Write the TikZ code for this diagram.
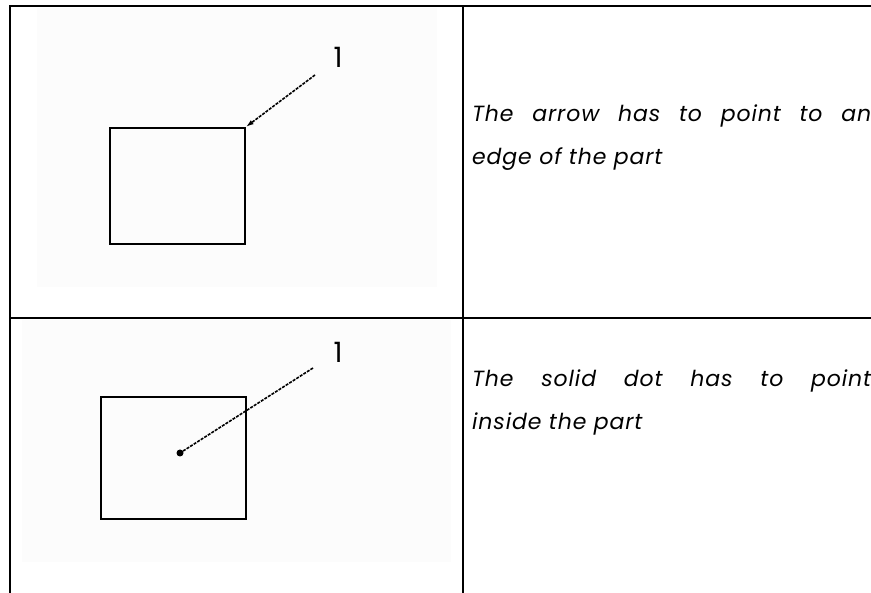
\documentclass[tikz,border=0pt]{standalone}
\usepackage{fontspec}
\newfontfamily\gothic{Poppins}
\newfontfamily\gothicwide{Poppins}[LetterSpace=4]
\usetikzlibrary{arrows.meta}
\definecolor{paper}{gray}{0.99}
\tikzset{
  grid/.style={line width=2pt, line cap=rect},
  part/.style={draw=black, line width=1.8pt, inner sep=0pt},
  leader/.style={line width=1.6pt, dash pattern=on 3pt off 1.2pt},
  num/.style={font=\gothic\fontsize{28}{28}\selectfont, inner sep=0pt},
  desc/.style={font=\gothicwide\itshape\fontsize{22}{43}\selectfont, text width=399pt, align=justify, inner sep=0pt, anchor=north west},
  shade/.style={fill=paper, draw=none}
}
\begin{document}
\begin{tikzpicture}[x=1pt,y=-1pt]
\useasboundingbox (0,0) rectangle (871,593);
% light backgrounds of the sketches
\fill[shade] (37,8) rectangle (437,287);
\fill[shade] (22,320) rectangle (451,562);
% table rules
\draw[grid] (10,6) -- (871,6);
\draw[grid] (10,318) -- (871,318);
\draw[grid] (10,6) -- (10,593);
\draw[grid] (463,6) -- (463,593);
% top sketch
\node[part, minimum width=135pt, minimum height=116pt, anchor=north west] (rect1) at (109,127) {};
\node[num] (n1) at (338,57) {1};
\coordinate (s1) at (315,75);
\draw[leader, -{Latex[length=8pt,width=5pt]}] (s1) -- (rect1.north east);
% bottom sketch
\node[part, minimum width=145pt, minimum height=122pt, line width=2.2pt, anchor=north west] (rect2) at (100,396) {};
\node[num] (n2) at (338,352) {1};
\coordinate (s2) at (313,368);
\node[circle, fill=black, inner sep=0pt, minimum size=7pt] (dot) at (180,453) {};
\draw[leader] (s2) -- (dot.center);
% descriptions
\node[desc] (t1) at (472,105) {The arrow has to point to an\linebreak edge of the part};
\node[desc] (t2) at (472,370) {The solid dot has to point\linebreak inside the part};
\end{tikzpicture}
\end{document}
